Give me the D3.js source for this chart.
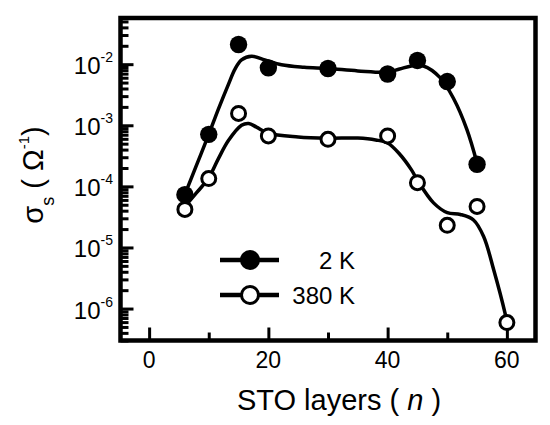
<!DOCTYPE html>
<html><head><meta charset="utf-8">
<script src="https://cdn.jsdelivr.net/npm/d3@7"></script>
<style>
body{margin:0;background:#fff}
svg{display:block}
text{font-family:"Liberation Sans",Arial,sans-serif;fill:#000}
</style>
</head><body>
<svg id="chart" width="550" height="425"></svg>
<script>
// ---- data ----
const layers2K = [6, 10, 15, 20, 30, 40, 45, 50, 55];
const sigma2K  = [7.3e-5, 7.1e-4, 2.1e-2, 8.7e-3, 8.5e-3, 6.9e-3, 1.15e-2, 5.2e-3, 2.3e-4];
const layers380K = [6, 10, 15, 20, 30, 40, 45, 50, 55, 60];
const sigma380K  = [4.2e-5, 1.34e-4, 1.56e-3, 6.7e-4, 5.9e-4, 6.7e-4, 1.15e-4, 2.3e-5, 4.7e-5, 5.9e-7];
// smooth guide curves (log10 of sigma)
const fitN2K   = [6, 8, 10, 11.6, 13.3, 14.4, 15.5, 17.2, 19.4, 22.2, 26, 30, 35, 40, 42, 44, 46, 48.8, 51.1, 53.3, 55];
const fitLog2K = [-4.13, -3.64, -3.15, -2.74, -2.33, -2.08, -1.93, -1.87, -1.93, -2.01, -2.05, -2.07, -2.11, -2.13, -2.08, -2.03, -2.03, -2.22, -2.57, -3.07, -3.62];
const fitN380K   = [6, 8, 10, 11.6, 13.3, 15.5, 16.7, 18, 20, 25, 30, 35, 38, 40, 42, 44, 45, 47.7, 50, 52.2, 54.4, 56.1, 57.8, 59.7, 60];
const fitLog380K = [-4.33, -4.1, -3.86, -3.55, -3.25, -3.0, -2.97, -3.03, -3.13, -3.19, -3.21, -3.21, -3.24, -3.29, -3.47, -3.73, -3.9, -4.27, -4.43, -4.46, -4.55, -4.82, -5.37, -6.08, -6.22];
const xMajorTicks = [0, 20, 40, 60];
const xMinorTicks = [10, 30, 50];
const yDecadeExps = [-6, -5, -4, -3, -2];
const legendLabels = ["2 K", "380 K"];

// ---- scales ----
const svg = d3.select("#chart");
const x = d3.scaleLinear().domain([-4.8, 64.8]).range([120.5, 535.5]);
const y = d3.scaleLog().domain([3e-7, 5.7e-2]).range([340.5, 18]);
const [L, R] = x.range();
const [B, T] = y.range();

// ---- axes ticks (inward) ----
const yMajorVals = yDecadeExps.map(e => Math.pow(10, e));
const yMinorVals = y.ticks().filter(v => !yMajorVals.some(m => Math.abs(v / m - 1) < 1e-6));

function styleAxis(g) {
  g.select(".domain").remove();
  g.selectAll(".tick line").attr("stroke", "#000").attr("stroke-width", 3);
  g.selectAll(".tick text").remove();
}
svg.append("g").attr("transform", `translate(${L},0)`)
  .call(d3.axisLeft(y).tickValues(yMinorVals).tickSize(-8).tickFormat(""))
  .call(styleAxis);
svg.append("g").attr("transform", `translate(${L},0)`)
  .call(d3.axisLeft(y).tickValues(yMajorVals).tickSize(-13).tickFormat(""))
  .call(styleAxis);
svg.append("g").attr("transform", `translate(0,${B})`)
  .call(d3.axisBottom(x).tickValues(xMinorTicks).tickSize(-8).tickFormat(""))
  .call(styleAxis);
svg.append("g").attr("transform", `translate(0,${B})`)
  .call(d3.axisBottom(x).tickValues(xMajorTicks).tickSize(-13).tickFormat(""))
  .call(styleAxis);

// frame
svg.append("rect").attr("x", L).attr("y", T).attr("width", R - L).attr("height", B - T)
  .attr("fill", "none").attr("stroke", "#000").attr("stroke-width", 4.5);

// tick labels
svg.append("g").selectAll("text").data(xMajorTicks).join("text")
  .attr("x", d => x(d)).attr("y", B + 27).attr("text-anchor", "middle")
  .attr("font-size", 23).text(d => d);

const yl = svg.append("g").selectAll("text").data(yDecadeExps).join("text")
  .attr("x", 113).attr("y", d => y(Math.pow(10, d)) + 10).attr("text-anchor", "end")
  .attr("font-size", 24);
yl.append("tspan").text("10");
yl.append("tspan").attr("font-size", 14).attr("dy", -12).text(d => "-" + Math.abs(d));

// axis titles
const xt = svg.append("text").attr("x", 339).attr("y", 410).attr("text-anchor", "middle").attr("font-size", 29);
xt.append("tspan").text("STO layers ( ");
xt.append("tspan").attr("font-style", "italic").text("n");
xt.append("tspan").text(" )");

const yt = svg.append("text").attr("transform", "translate(43,175) rotate(-90)")
  .attr("text-anchor", "middle").attr("font-size", 29);
yt.append("tspan").text("σ");
yt.append("tspan").attr("font-size", 18).attr("dy", 11).text("s");
yt.append("tspan").attr("dy", -11).text(" ( ");
yt.append("tspan").text("Ω");
yt.append("tspan").attr("font-size", 15).attr("dy", -14).text("-1");
yt.append("tspan").attr("dy", 14).text(")");

// fit curves
const line = d3.line().x(d => x(d[0])).y(d => y(Math.pow(10, d[1]))).curve(d3.curveCatmullRom.alpha(0.5));
svg.append("path").datum(d3.zip(fitN2K, fitLog2K)).attr("d", line)
  .attr("fill", "none").attr("stroke", "#000").attr("stroke-width", 3.5);
svg.append("path").datum(d3.zip(fitN380K, fitLog380K)).attr("d", line)
  .attr("fill", "none").attr("stroke", "#000").attr("stroke-width", 3.5);

// markers
svg.append("g").selectAll("circle").data(d3.zip(layers2K, sigma2K)).join("circle")
  .attr("cx", d => x(d[0])).attr("cy", d => y(d[1])).attr("r", 8.7).attr("fill", "#000");
svg.append("g").selectAll("circle").data(d3.zip(layers380K, sigma380K)).join("circle")
  .attr("cx", d => x(d[0])).attr("cy", d => y(d[1])).attr("r", 7)
  .attr("fill", "#fff").attr("stroke", "#000").attr("stroke-width", 3);

// legend
const lg = svg.append("g");
const rows = [260, 295];
lg.selectAll("line").data(rows).join("line")
  .attr("x1", 220).attr("x2", 279).attr("y1", d => d).attr("y2", d => d)
  .attr("stroke", "#000").attr("stroke-width", 4.5);
lg.append("circle").attr("cx", 250).attr("cy", rows[0]).attr("r", 10).attr("fill", "#000");
lg.append("circle").attr("cx", 250).attr("cy", rows[1]).attr("r", 8.5)
  .attr("fill", "#fff").attr("stroke", "#000").attr("stroke-width", 3);
lg.selectAll("text").data(legendLabels).join("text")
  .attr("x", 355).attr("y", (d, i) => rows[i] + 9).attr("text-anchor", "end")
  .attr("font-size", 24).text(d => d);
</script>
</body></html>
